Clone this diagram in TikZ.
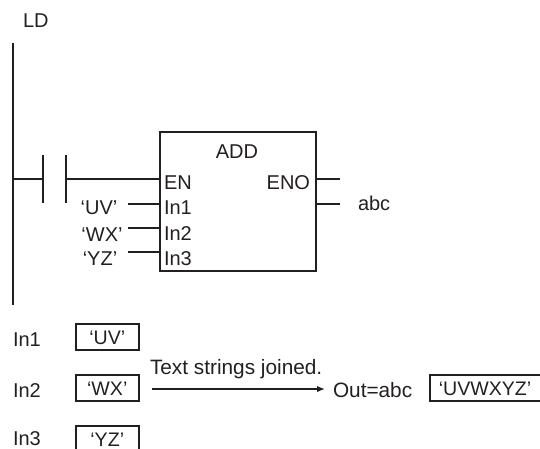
\documentclass[tikz,border=0pt]{standalone}
\usepackage{fontspec}
\setmainfont{Liberation Sans}
\usetikzlibrary{arrows.meta}
\definecolor{ink}{HTML}{231F20}
\tikzset{
  txt/.style={inner sep=0pt,outer sep=0pt,anchor=base west,text=ink,font=\fontsize{20}{24}\selectfont},
  txtb/.style={txt,anchor=base},
  lower/.style={txt,font=\fontsize{20.8}{25}\selectfont},
  wire/.style={draw=ink,line width=1.5pt},
  val/.style={draw=ink,line width=1.5pt,inner sep=0pt,minimum height=26pt,anchor=north west,text=ink,text height=16pt,text depth=0pt,font=\fontsize{19.6}{24}\selectfont},
}
\begin{document}
\begin{tikzpicture}[x=1pt,y=-1pt]
\useasboundingbox (0,0) rectangle (540,448);
\clip (0,0) rectangle (540,448);
% power rail
\coordinate (railT) at (13,43);
\coordinate (railB) at (13,305);
\draw[wire,line width=2pt] (railT) -- (railB);
\coordinate (railR) at (13,179);
% contact
\coordinate (c1t) at (43,155); \coordinate (c1b) at (43,203); \coordinate (c1m) at (43,179);
\coordinate (c2t) at (66,155); \coordinate (c2b) at (66,203); \coordinate (c2m) at (66,179);
\draw[wire] (c1t) -- (c1b);
\draw[wire] (c2t) -- (c2b);
% block
\node[draw=ink,line width=1.6pt,minimum width=156pt,minimum height=139pt,inner sep=0pt,anchor=north west] (blk) at (159,131) {};
\node[txtb] (add) at (237,158) {ADD};
\node[txt] (en) at (164,189) {EN};
\node[txt,anchor=base east] (eno) at (310,189) {ENO};
\node[txt] (in1) at (164,214) {In1};
\node[txt] (in2) at (164,240) {In2};
\node[txt] (in3) at (164,265) {In3};
\node[txtb] (uv) at (99,214) {‘UV’};
\node[txtb] (wx) at (102,241) {‘WX’};
\node[txtb] (yz) at (100,265) {‘YZ’};
\node[txt] (abc) at (358,210) {abc};
\node[txt] (ld) at (23,27) {LD};
\coordinate (enL) at (159,179);
\coordinate (enoR) at (315,179);
\coordinate (enoE) at (340,179);
\coordinate (outR) at (315,204);
\coordinate (outE) at (340,204);
\coordinate (i1L) at (159,204); \coordinate (u1) at (128,204);
\coordinate (i2L) at (159,228); \coordinate (u2) at (128,228);
\coordinate (i3L) at (159,252); \coordinate (u3) at (128,252);
\draw[wire] (railR) -- (c1m);
\draw[wire] (c2m) -- (enL);
\draw[wire] (enoR) -- (enoE);
\draw[wire] (outR) -- (outE);
\draw[wire] (u1) -- (i1L);
\draw[wire] (u2) -- (i2L);
\draw[wire] (u3) -- (i3L);
% lower part
\node[txt] (l1) at (13,346) {In1};
\node[txt] (l2) at (13,397) {In2};
\node[txt] (l3) at (13,445.5) {In3};
\node[val,minimum width=63pt] (b1) at (75,323) {‘UV’};
\node[val,minimum width=63pt] (b2) at (75,374) {‘WX’};
\node[val,minimum width=63pt,text height=15pt] (b3) at (75,425) {‘YZ’};
\node[val,minimum width=130pt,text width=112pt,align=left] (b4) at (429,374) {‘UVWXYZ’};
\node[lower] (tj) at (150,374) {Text strings joined.};
\node[lower] (out) at (333,397) {Out=abc};
\coordinate (as) at (152,389);
\coordinate (ae) at (325,389);
\draw[wire,-{Latex[length=8pt,width=6.5pt]}] (as) -- (ae);
\end{tikzpicture}
\end{document}
